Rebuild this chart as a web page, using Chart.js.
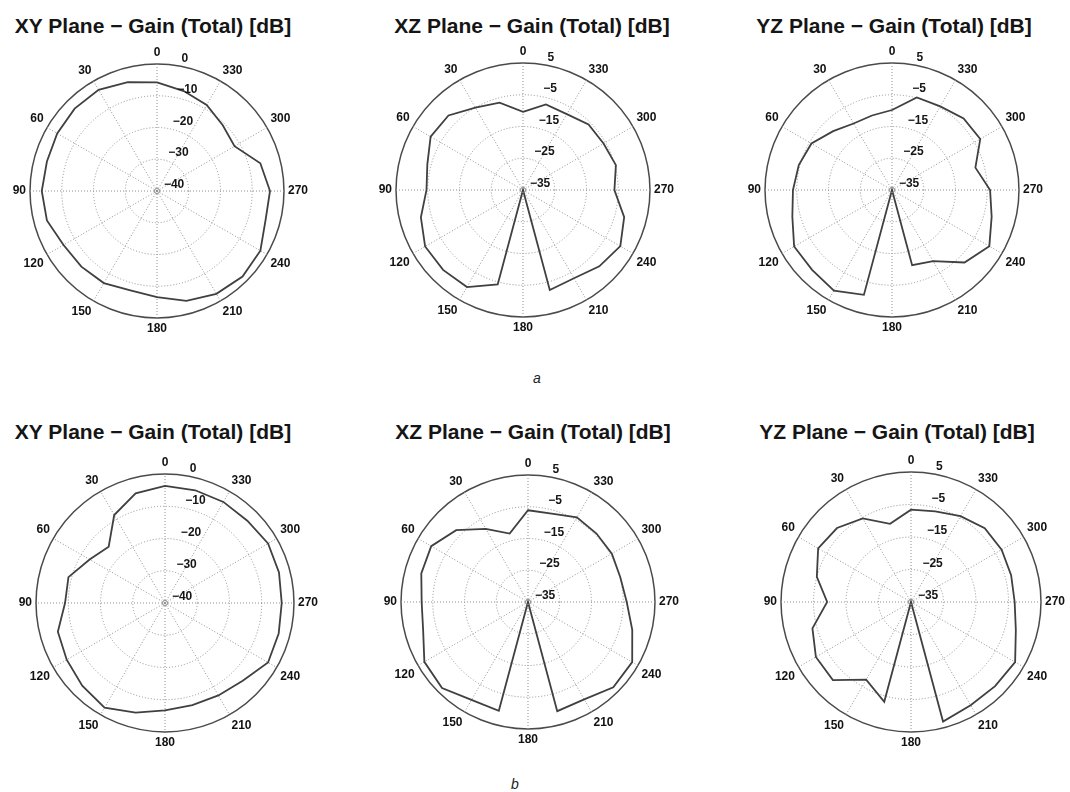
<!DOCTYPE html>
<html><head><meta charset="utf-8">
<script src="https://cdn.jsdelivr.net/npm/chart.js@4.4.1/dist/chart.umd.min.js"></script>
<style>
html,body{margin:0;padding:0;background:#fff;}
#wrap{position:relative;width:1070px;height:792px;overflow:hidden;background:#fff;font-family:"Liberation Sans",Arial,sans-serif;}
.title{position:absolute;font-weight:bold;font-size:21px;line-height:21px;color:#151515;white-space:nowrap;transform:translateX(-50%);}
.box{position:absolute;}
.sub{position:absolute;font-style:italic;font-size:14px;line-height:14px;color:#222;transform:translateX(-50%);}
</style></head><body>
<div id="wrap"></div>
<script>
// ---- data (angle in degrees, counter-clockwise from top; gain in dB) ----
const angles = [0,15,30,45,60,75,90,105,120,135,150,165,180,195,210,225,240,255,270,285,300,315,330,345];

const xyA = [-5.8,-4.5,-3.2,-3.3,-3.7,-4.1,-3.7,-4.1,-6.0,-6.3,-6.5,-7.6,-6.6,-4.2,-2.6,-1.9,-2.4,-4.6,-4.4,-6.3,-11.8,-10.7,-8.7,-7.4];
const xzA = [-10.4,-6.5,-5.0,-1.8,-1.4,-3.8,-4.6,-1.7,0.6,0.6,0.3,-4.2,-35,-2.4,-2.9,-1.0,0.4,-2.0,-6.2,-4.7,-5.7,-5.8,-7.4,-7.1];
const yzA = [-9.8,-10.7,-10.8,-8.8,-5.7,-4.6,-3.8,-2.5,0.6,0.6,1.6,-0.8,-35,-10.5,-9.1,-2.7,0.4,-2.5,-4.1,-7.8,-2.9,-3.1,-4.6,-4.8];

const xyB = [-3.7,-4.8,-8.5,-15.3,-13.0,-9.0,-9.0,-5.6,-4.8,-3.7,-2.5,-4.8,-6.7,-7.2,-6.9,-5.9,-3.1,-3.5,-3.8,-3.4,-3.1,-3.9,-3.8,-3.8];
const xzB = [-6.1,-12.7,-8.4,-3.0,0.2,-0.2,-1.5,-0.8,2.7,3.3,0.6,0.5,-35,0.6,0.4,3.0,2.9,-1.0,-3.9,-4.9,-4.5,-4.5,-4.2,-6.2];
const yzB = [-6.6,-10.1,-5.3,-2.8,-2.0,-5.0,-9.2,-3.6,-1.2,-1.0,-7.4,-3.2,-35,3.1,1.7,1.6,2.0,-1.6,-3.1,-3.1,-2.8,-2.9,-4.5,-6.1];

const xyRange = [-40, 0];   // radial axis: min, max (ticks every 10 dB)
const zRange = [-35, 5];
const tickStep = 10;
const angleLabelStep = 30;

const titles = ['XY Plane \u2212 Gain (Total) [dB]', 'XZ Plane \u2212 Gain (Total) [dB]', 'YZ Plane \u2212 Gain (Total) [dB]'];
const panelLabels = ['a', 'b'];

// ---- layout ----
const FONT = '"Liberation Sans", Arial, sans-serif';
const panels = [
  {vals: xyA, range: xyRange, title: 0, cx: 157, cy: 191, S: 302, tx: 153, ty: 15},
  {vals: xzA, range: zRange,  title: 1, cx: 523, cy: 190, S: 302, tx: 532, ty: 15},
  {vals: yzA, range: zRange,  title: 2, cx: 892, cy: 190, S: 302, tx: 894, ty: 15},
  {vals: xyB, range: xyRange, title: 0, cx: 165, cy: 603, S: 306, tx: 153, ty: 421},
  {vals: xzB, range: zRange,  title: 1, cx: 528, cy: 602, S: 302, tx: 533, ty: 421},
  {vals: yzB, range: zRange,  title: 2, cx: 911, cy: 602, S: 308, tx: 897, ty: 421}
];
const subPos = [{x: 537, y: 371}, {x: 515, y: 777}];

const fmt = v => (v < 0 ? '\u2212' + Math.abs(v) : String(v));

const rTickPlugin = {
  id: 'rTicks',
  afterDraw(chart) {
    const s = chart.scales.r, ctx = chart.ctx;
    ctx.save();
    // small ring at the origin
    ctx.strokeStyle = '#8a8a8a';
    ctx.lineWidth = 1;
    ctx.beginPath();
    ctx.arc(s.xCenter, s.yCenter, 2.5, 0, Math.PI * 2);
    ctx.stroke();
    // radial tick labels along the 82 degree line
    ctx.font = 'bold 12px ' + FONT;
    ctx.fillStyle = '#151515';
    ctx.textAlign = 'left';
    ctx.textBaseline = 'bottom';
    const a = 82 * Math.PI / 180;
    const rinc = s.drawingArea / 4;
    const lead = ctx.measureText('  ').width;
    s.ticks.forEach(t => {
      const d = s.getDistanceFromCenterForValue(t.value) + rinc / 20;
      ctx.fillText(fmt(t.value), s.xCenter + d * Math.cos(a) + lead, s.yCenter - d * Math.sin(a) + 1);
    });
    ctx.restore();
  }
};

const wrap = document.getElementById('wrap');
const n = angles.length;
// radar draws clockwise; the reference runs counter-clockwise -> reorder
const order = angles.map((_, k) => (n - k) % n);

panels.forEach(p => {
  const t = document.createElement('div');
  t.className = 'title';
  t.style.left = p.tx + 'px';
  t.style.top = p.ty + 'px';
  t.textContent = titles[p.title];
  wrap.appendChild(t);

  const box = document.createElement('div');
  box.className = 'box';
  const offX = Math.floor(p.S / 2) - 4, offY = p.S / 2;
  box.style.left = (p.cx - offX) + 'px';
  box.style.top = (p.cy - offY) + 'px';
  const cv = document.createElement('canvas');
  cv.width = p.S; cv.height = p.S;
  cv.style.width = p.S + 'px'; cv.style.height = p.S + 'px';
  box.appendChild(cv);
  wrap.appendChild(box);

  const last = Math.round((p.range[1] - p.range[0]) / tickStep);
  new Chart(cv, {
    type: 'radar',
    data: {
      labels: order.map(i => angles[i]),
      datasets: [{
        data: order.map(i => p.vals[i]),
        borderColor: '#404040',
        borderWidth: 1.8,
        pointRadius: 0,
        fill: false,
        tension: 0
      }]
    },
    options: {
      responsive: false,
      animation: false,
      devicePixelRatio: 1,
      layout: {padding: 0},
      plugins: {legend: {display: false}, tooltip: {enabled: false}},
      scales: {
        r: {
          min: p.range[0],
          max: p.range[1],
          startAngle: 0,
          ticks: {stepSize: tickStep, display: false},
          grid: {
            circular: true,
            color: c => (c.index === last ? '#4a4a4a' : '#8f8f8f'),
            lineWidth: c => (c.index === last ? 1.5 : 1)
          },
          border: {dash: c => (c.index === last ? [] : [1, 2])},
          angleLines: {
            color: '#8f8f8f',
            lineWidth: c => (c.index % 2 === 0 ? 1 : 0),
            borderDash: [1, 2]
          },
          pointLabels: {
            padding: 4,
            color: '#111',
            font: {family: FONT, size: 12, weight: 'bold'},
            callback: lab => (lab % angleLabelStep === 0 ? String(lab) : '')
          }
        }
      }
    },
    plugins: [rTickPlugin]
  });
});

panelLabels.forEach((s, i) => {
  const d = document.createElement('div');
  d.className = 'sub';
  d.style.left = subPos[i].x + 'px';
  d.style.top = subPos[i].y + 'px';
  d.textContent = s;
  wrap.appendChild(d);
});
</script>
</body></html>
